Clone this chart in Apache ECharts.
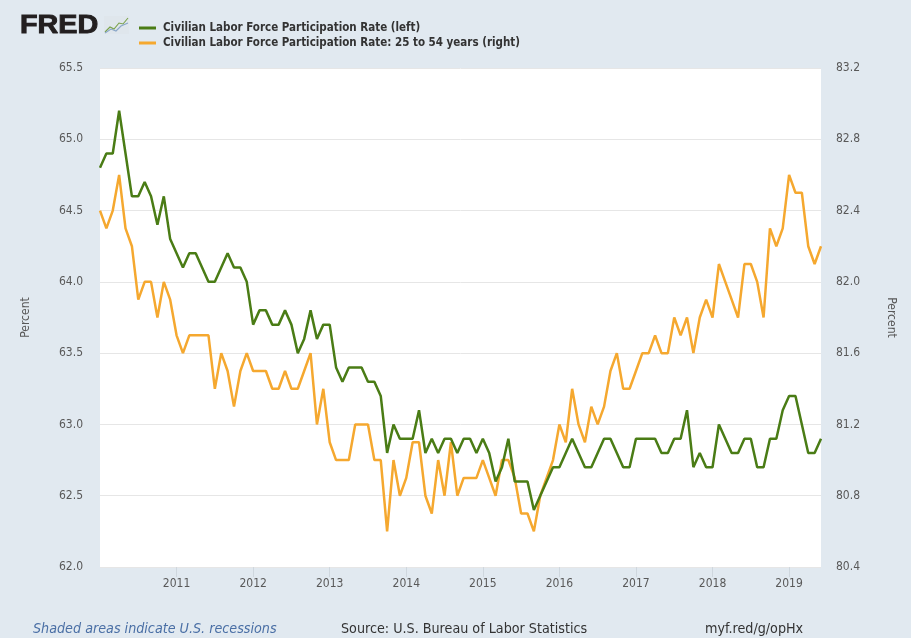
<!DOCTYPE html>
<html>
<head>
<meta charset="utf-8">
<script src="https://cdn.jsdelivr.net/npm/echarts@6/dist/echarts.min.js"></script>
<style>
html,body{margin:0;padding:0;background:#e1e9f0;}
#chart{width:911px;height:638px;}
</style>
</head>
<body>
<div id="chart"></div>
<script>
// Months Jan 2010 - Jun 2019
var months = [];
for (var y = 2010; y <= 2019; y++) {
  for (var m = 1; m <= 12; m++) {
    if (y === 2019 && m > 6) break;
    months.push(y + '-' + (m < 10 ? '0' + m : m));
  }
}
var seriesNames = [
  'Civilian Labor Force Participation Rate (left)',
  'Civilian Labor Force Participation Rate: 25 to 54 years (right)'
];
var totalRate = [
  64.8, 64.9, 64.9, 65.2, 64.9, 64.6, 64.6, 64.7, 64.6, 64.4, 64.6, 64.3,
  64.2, 64.1, 64.2, 64.2, 64.1, 64.0, 64.0, 64.1, 64.2, 64.1, 64.1, 64.0,
  63.7, 63.8, 63.8, 63.7, 63.7, 63.8, 63.7, 63.5, 63.6, 63.8, 63.6, 63.7,
  63.7, 63.4, 63.3, 63.4, 63.4, 63.4, 63.3, 63.3, 63.2, 62.8, 63.0, 62.9,
  62.9, 62.9, 63.1, 62.8, 62.9, 62.8, 62.9, 62.9, 62.8, 62.9, 62.9, 62.8,
  62.9, 62.8, 62.6, 62.7, 62.9, 62.6, 62.6, 62.6, 62.4, 62.5, 62.6, 62.7,
  62.7, 62.8, 62.9, 62.8, 62.7, 62.7, 62.8, 62.9, 62.9, 62.8, 62.7, 62.7,
  62.9, 62.9, 62.9, 62.9, 62.8, 62.8, 62.9, 62.9, 63.1, 62.7, 62.8, 62.7,
  62.7, 63.0, 62.9, 62.8, 62.8, 62.9, 62.9, 62.7, 62.7, 62.9, 62.9, 63.1,
  63.2, 63.2, 63.0, 62.8, 62.8, 62.9
];
var primeAgeRate = [
  82.4, 82.3, 82.4, 82.6, 82.3, 82.2, 81.9, 82.0, 82.0, 81.8, 82.0, 81.9,
  81.7, 81.6, 81.7, 81.7, 81.7, 81.7, 81.4, 81.6, 81.5, 81.3, 81.5, 81.6,
  81.5, 81.5, 81.5, 81.4, 81.4, 81.5, 81.4, 81.4, 81.5, 81.6, 81.2, 81.4,
  81.1, 81.0, 81.0, 81.0, 81.2, 81.2, 81.2, 81.0, 81.0, 80.6, 81.0, 80.8,
  80.9, 81.1, 81.1, 80.8, 80.7, 81.0, 80.8, 81.1, 80.8, 80.9, 80.9, 80.9,
  81.0, 80.9, 80.8, 81.0, 81.0, 80.9, 80.7, 80.7, 80.6, 80.8, 80.9, 81.0,
  81.2, 81.1, 81.4, 81.2, 81.1, 81.3, 81.2, 81.3, 81.5, 81.6, 81.4, 81.4,
  81.5, 81.6, 81.6, 81.7, 81.6, 81.6, 81.8, 81.7, 81.8, 81.6, 81.8, 81.9,
  81.8, 82.1, 82.0, 81.9, 81.8, 82.1, 82.1, 82.0, 81.8, 82.3, 82.2, 82.3,
  82.6, 82.5, 82.5, 82.2, 82.1, 82.2
];
var leftAxis = {min: 62.0, max: 65.5, interval: 0.5};
var rightAxis = {min: 80.4, max: 83.2, interval: 0.4};
var footerTexts = ['Shaded areas indicate U.S. recessions', 'Source: U.S. Bureau of Labor Statistics', 'myf.red/g/opHx'];

var GREEN = '#4a7c15';
var ORANGE = '#f5a82f';
var FONT = 'DejaVu Sans Condensed, DejaVu Sans, sans-serif';

function isJan(idx) { return idx > 0 && months[idx].slice(5) === '01'; }

var chart = echarts.init(document.getElementById('chart'), null, {renderer: 'canvas'});
chart.setOption({
  backgroundColor: '#e1e9f0',
  animation: false,
  textStyle: {fontFamily: FONT},
  grid: {left: 100, right: 90, top: 68, bottom: 71, backgroundColor: '#ffffff', show: true, borderWidth: 0},
  legend: {
    orient: 'vertical', left: 134, top: 17, itemGap: 3,
    itemWidth: 17, itemHeight: 3, icon: 'rect',
    textStyle: {fontFamily: FONT, fontWeight: 'bold', fontSize: 11.5, color: '#333333', padding: [0, 0, 0, 2]},
    data: seriesNames
  },
  xAxis: {
    type: 'category', data: months, boundaryGap: false,
    axisLine: {show: false},
    axisTick: {show: true, interval: function (i) { return isJan(i); }, length: 10, lineStyle: {color: '#cfd7de'}},
    axisLabel: {
      interval: function (i) { return isJan(i); },
      formatter: function (v) { return v.slice(0, 4); },
      color: '#595959', fontSize: 12, fontFamily: FONT, margin: 11
    },
    splitLine: {show: false}
  },
  yAxis: [{
    type: 'value', position: 'left', min: leftAxis.min, max: leftAxis.max, interval: leftAxis.interval,
    name: 'Percent', nameLocation: 'middle', nameGap: 68,
    nameTextStyle: {color: '#595959', fontSize: 12, fontFamily: FONT},
    axisLine: {show: false}, axisTick: {show: false},
    axisLabel: {color: '#595959', fontSize: 12, fontFamily: FONT, margin: 17, formatter: function (v) { return v.toFixed(1); }},
    splitLine: {lineStyle: {color: '#e6e6e6', width: 1}}
  }, {
    type: 'value', position: 'right', min: rightAxis.min, max: rightAxis.max, interval: rightAxis.interval,
    name: 'Percent', nameLocation: 'middle', nameGap: 64, nameRotate: -90,
    nameTextStyle: {color: '#595959', fontSize: 12, fontFamily: FONT},
    axisLine: {show: false}, axisTick: {show: false},
    axisLabel: {color: '#595959', fontSize: 12, fontFamily: FONT, margin: 15, formatter: function (v) { return v.toFixed(1); }},
    splitLine: {show: false}
  }],
  series: [{
    name: seriesNames[0], type: 'line', yAxisIndex: 0, data: totalRate,
    showSymbol: false, symbol: 'none', color: GREEN,
    lineStyle: {color: GREEN, width: 2.5}, z: 3
  }, {
    name: seriesNames[1], type: 'line', yAxisIndex: 1, data: primeAgeRate,
    showSymbol: false, symbol: 'none', color: ORANGE,
    lineStyle: {color: ORANGE, width: 2.5}, z: 2
  }],
  graphic: [
    {type: 'text', x: 20, y: 14, scaleX: 1.15, style: {text: 'FRED', font: 'bold 25px "Liberation Sans", Arial, sans-serif', fill: '#231f20', stroke: '#231f20', lineWidth: 0.9}},
    {type: 'group', x: 104, y: 16, children: [
      {type: 'rect', shape: {x: 0, y: 0, width: 25, height: 18}, style: {fill: '#dfe6ec'}},
      {type: 'polyline', shape: {points: [[1, 16], [6, 11], [10, 13], [15, 7], [19, 8], [24, 2]]}, style: {stroke: '#7aa24a', lineWidth: 1.1, fill: null}},
      {type: 'polyline', shape: {points: [[1, 17], [7, 13], [12, 15], [17, 10], [24, 7]]}, style: {stroke: '#8aa7c8', lineWidth: 1.1, fill: null}}
    ]},
    {type: 'text', left: 33, top: 622, style: {text: footerTexts[0], font: 'italic 14.2px ' + FONT, fill: '#4a6fa5'}},
    {type: 'text', left: 341, top: 622, style: {text: footerTexts[1], font: '14.2px ' + FONT, fill: '#333333'}},
    {type: 'text', left: 705, top: 622, style: {text: footerTexts[2], font: '14.2px ' + FONT, fill: '#333333'}}
  ]
});
</script>
</body>
</html>
